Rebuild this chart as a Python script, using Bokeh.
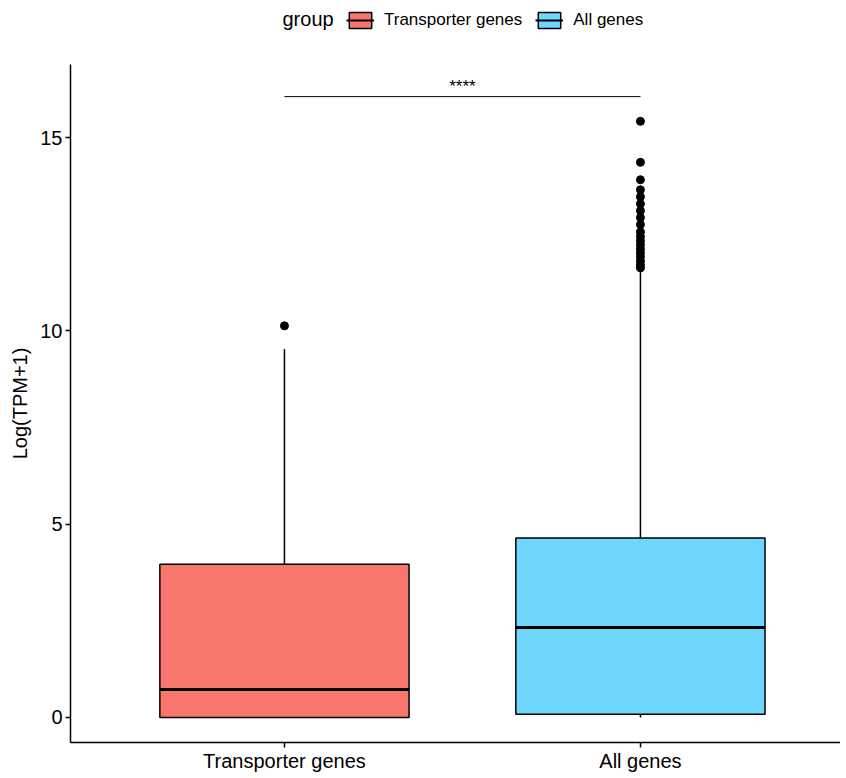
from bokeh.plotting import figure
from bokeh.models import Range1d, Legend, LegendItem, FixedTicker, Label
from bokeh.layouts import column
from bokeh.embed import file_html
from bokeh.resources import INLINE
from bokeh.core.properties import value

# ---- data ----
groups = ["Transporter genes", "All genes"]
positions = [1, 2]
colors = ["#F8766D", "#6FD7FE"]
q1 = [0.0, 0.08]
median = [0.72, 2.33]
q3 = [3.96, 4.64]
whisker_low = [0.0, 0.0]
whisker_high = [9.53, 11.58]
outliers_transporter = [10.13]
outliers_all = [15.42, 14.36, 13.91, 13.65, 13.47, 13.29, 13.11, 12.93, 12.75,
                12.56, 12.44, 12.33, 12.23, 12.12, 12.02, 11.92, 11.81, 11.71, 11.63]
sig_y = 16.06
sig_label = "****"
y_ticks = [0, 5, 10, 15]
legend_title = "group"

FONT = "Liberation Sans"
W = 840
LEG_H = 64
MAIN_H = 774 - LEG_H
NAN = float("nan")

# ---------------- main plot ----------------
p = figure(width=W, height=MAIN_H, output_backend="svg", toolbar_location=None,
           x_range=Range1d(0.399, 2.562), y_range=Range1d(-0.648, 16.891),
           min_border_left=70, min_border_right=0, min_border_top=0,
           min_border_bottom=0)
p.outline_line_color = None
p.xgrid.visible = False
p.ygrid.visible = False

box_w = 0.7
for i in range(2):
    x = positions[i]
    p.segment(x0=[x, x], y0=[q3[i], q1[i]], x1=[x, x], y1=[whisker_high[i], whisker_low[i]],
              line_color="black", line_width=1.5)
    p.vbar(x=[x], width=box_w, bottom=[q1[i]], top=[q3[i]],
           fill_color=colors[i], line_color="black", line_width=1.5)
    p.segment(x0=[x - box_w / 2], x1=[x + box_w / 2], y0=[median[i]], y1=[median[i]],
              line_color="black", line_width=3)

p.scatter(x=[positions[0]] * len(outliers_transporter), y=outliers_transporter,
          size=8, color="black")
p.scatter(x=[positions[1]] * len(outliers_all), y=outliers_all,
          size=8, color="black")

# significance bar
p.segment(x0=[positions[0]], x1=[positions[1]], y0=[sig_y], y1=[sig_y],
          line_color="black", line_width=1)
p.text(x=[(positions[0] + positions[1]) / 2], y=[sig_y], text=[sig_label],
       text_align="center", text_baseline="bottom", y_offset=-1,
       text_font=value(FONT), text_font_size="17px", text_color="black")

p.xaxis.ticker = FixedTicker(ticks=positions)
p.xaxis.major_label_overrides = {1: groups[0], 2: groups[1]}
p.yaxis.ticker = FixedTicker(ticks=y_ticks)
for ax in [p.xaxis[0], p.yaxis[0]]:
    ax.axis_line_width = 1.5
    ax.axis_line_color = "black"
    ax.major_tick_line_color = "black"
    ax.major_tick_line_width = 1.5
    ax.major_tick_out = 5
    ax.major_tick_in = 0
    ax.minor_tick_line_color = None
    ax.major_label_text_font = FONT
    ax.major_label_text_font_size = "20px"
    ax.major_label_text_color = "black"
    ax.major_label_standoff = 3
p.xaxis.major_label_standoff = 2
p.yaxis.axis_label = "Log(TPM+1)"
p.yaxis.axis_label_text_font = FONT
p.yaxis.axis_label_text_font_size = "20px"
p.yaxis.axis_label_text_font_style = "normal"
p.yaxis.axis_label_text_color = "black"
p.yaxis.axis_label_standoff = 6

# ---------------- legend strip (above the panel) ----------------
lg = figure(width=W, height=LEG_H, output_backend="svg", toolbar_location=None,
            x_range=Range1d(0, 1), y_range=Range1d(0, 1),
            min_border_left=70, min_border_right=0,
            min_border_top=0, min_border_bottom=0)
lg.axis.visible = False
lg.grid.visible = False
lg.outline_line_color = None

items = []
for i in range(2):
    # key renderers hold no drawable data; only their legend glyphs show
    kb = lg.vbar(x=[NAN], width=1, bottom=[NAN], top=[NAN], fill_color=colors[i],
                 line_color="black", line_width=1.5)
    km = lg.segment(x0=[NAN], x1=[NAN], y0=[NAN], y1=[NAN], line_color="black", line_width=2)
    items.append(LegendItem(label=groups[i], renderers=[kb, km]))

legend = Legend(items=items, orientation="horizontal", location=(276, 34),
                label_text_font=FONT, label_text_font_size="17px", label_text_color="black",
                label_standoff=10, glyph_width=28, glyph_height=20, spacing=13,
                border_line_color=None, background_fill_alpha=0,
                margin=0, padding=0)
lg.add_layout(legend, "center")
lg.add_layout(Label(x=212, y=46, x_units="screen", y_units="screen",
                    text=legend_title, text_baseline="middle", text_font=FONT,
                    text_font_size="20px", text_color="black"))

layout = column(lg, p, spacing=0)
open("out.html", "w").write(file_html(layout, INLINE))
